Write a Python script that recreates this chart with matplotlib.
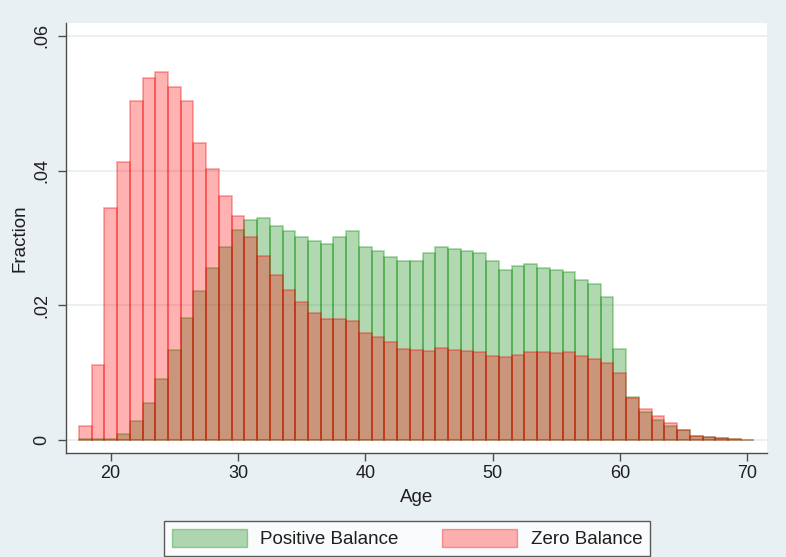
import matplotlib
matplotlib.use("Agg")
import matplotlib.pyplot as plt
from matplotlib.patches import Patch

# -----------------------------
# Data (fraction of accounts by age)
# -----------------------------
ages = list(range(18, 71))

positive_balance = [
    0.0001, 0.0001, 0.0002, 0.0009, 0.0028, 0.0055, 0.0090, 0.0133, 0.0181, 0.0221,
    0.0256, 0.0287, 0.0312, 0.0326, 0.0329, 0.0318, 0.0311, 0.0302, 0.0295, 0.0291,
    0.0301, 0.0311, 0.0287, 0.0281, 0.0272, 0.0266, 0.0266, 0.0277, 0.0286, 0.0284,
    0.0281, 0.0277, 0.0266, 0.0252, 0.0258, 0.0262, 0.0256, 0.0253, 0.0249, 0.0237,
    0.0232, 0.0213, 0.0135, 0.0064, 0.0041, 0.0030, 0.0021, 0.0015, 0.0006, 0.0004,
    0.00025, 0.0001, 0.00005,
]

zero_balance = [
    0.0021, 0.0112, 0.0344, 0.0413, 0.0503, 0.0538, 0.0547, 0.0524, 0.0503, 0.0441,
    0.0403, 0.0362, 0.0332, 0.0301, 0.0273, 0.0245, 0.0223, 0.0205, 0.0188, 0.0179,
    0.0179, 0.0176, 0.0159, 0.0153, 0.0145, 0.0135, 0.0134, 0.0132, 0.0136, 0.0134,
    0.0132, 0.0130, 0.0124, 0.0123, 0.0126, 0.0131, 0.0131, 0.0129, 0.0130, 0.0124,
    0.0120, 0.0114, 0.0099, 0.0063, 0.0046, 0.0036, 0.0026, 0.0015, 0.0006, 0.0004,
    0.00025, 0.0001, 0.00005,
]

x_ticks = [20, 30, 40, 50, 60, 70]
y_ticks = [0, 0.02, 0.04, 0.06]
y_tick_labels = ["0", ".02", ".04", ".06"]

# -----------------------------
# Style
# -----------------------------
BG_COLOR = "#E9F0F3"
GRID_COLOR = "#E8EEF0"
AXIS_COLOR = "#4D4D4D"
TEXT_COLOR = "#1E1E1E"
GREEN_FILL = (0.0, 0.5, 0.0, 0.30)
GREEN_EDGE = (0.0, 0.55, 0.0, 0.35)
RED_FILL = (1.0, 0.0, 0.0, 0.30)
RED_EDGE = (0.95, 0.0, 0.0, 0.35)

plt.rcParams["font.family"] = ["Liberation Sans", "DejaVu Sans"]

fig = plt.figure(figsize=(7.86, 5.57), dpi=100, facecolor=BG_COLOR)
ax = fig.add_axes([66 / 786, 1 - 452.7 / 557, (767 - 66) / 786, (452.7 - 23) / 557])
ax.set_facecolor("white")

ax.bar(ages, positive_balance, width=1.0, color=GREEN_FILL,
       edgecolor=GREEN_EDGE, linewidth=1.2, zorder=2)
ax.bar(ages, zero_balance, width=1.0, color=RED_FILL,
       edgecolor=RED_EDGE, linewidth=1.2, zorder=3)

ax.set_xlim(16.49, 71.56)
ax.set_ylim(-0.00188, 0.0619)

ax.set_xticks(x_ticks)
ax.set_yticks(y_ticks)
ax.set_yticklabels(y_tick_labels, rotation=90, va="center")

ax.yaxis.grid(True, color=GRID_COLOR, linewidth=1.2, zorder=0)
ax.set_axisbelow(True)

for side in ["top", "right"]:
    ax.spines[side].set_visible(False)
for side in ["left", "bottom"]:
    ax.spines[side].set_color(AXIS_COLOR)
    ax.spines[side].set_linewidth(1.0)

ax.tick_params(axis="both", colors=AXIS_COLOR, labelcolor=TEXT_COLOR,
               labelsize=13, length=6, width=1.0)
ax.tick_params(axis="y", pad=5)
ax.tick_params(axis="x", pad=3)

ax.set_xlabel("Age", fontsize=13.5, color=TEXT_COLOR, labelpad=5)
ax.set_ylabel("Fraction", fontsize=13.5, color=TEXT_COLOR, labelpad=4)

handles = [
    Patch(facecolor=GREEN_FILL, edgecolor=GREEN_EDGE, linewidth=1.0, label="Positive Balance"),
    Patch(facecolor=RED_FILL, edgecolor=RED_EDGE, linewidth=1.0, label="Zero Balance"),
]
leg = fig.legend(
    handles=handles,
    loc="lower left",
    bbox_to_anchor=(164 / 786, 1 / 557),
    borderaxespad=0.0,
    ncol=2,
    fontsize=13.5,
    frameon=True,
    fancybox=False,
    handlelength=4.0,
    handleheight=1.07,
    handletextpad=0.7,
    columnspacing=2.35,
    borderpad=0.42,
)
leg.get_frame().set_edgecolor("#333333")
leg.get_frame().set_linewidth(1.0)
leg.get_frame().set_facecolor("white")
for t in leg.get_texts():
    t.set_color(TEXT_COLOR)

fig.savefig("out.png", dpi=100, facecolor=BG_COLOR)
plt.close(fig)
